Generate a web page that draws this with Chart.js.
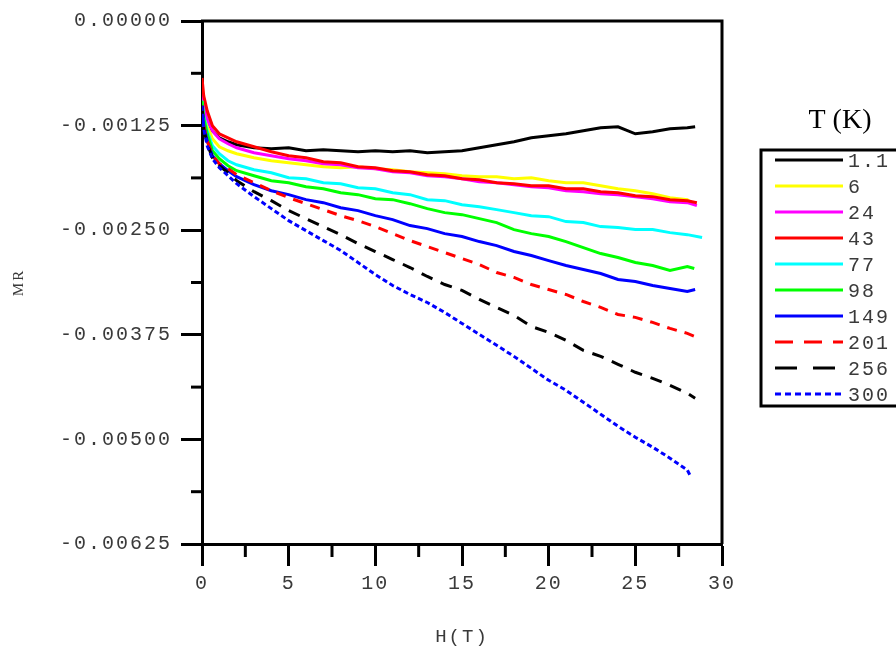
<!DOCTYPE html>
<html>
<head>
<meta charset="utf-8">
<script src="https://cdn.jsdelivr.net/npm/chart.js@4/dist/chart.umd.min.js"></script>
<style>
  html, body { margin: 0; padding: 0; background: #fff; }
  #wrap { width: 896px; height: 652px; }
</style>
</head>
<body>
<div id="wrap"><canvas id="chart"></canvas></div>
<script>
// field values (T) shared by every run, last point of each run is in fieldEnd
const fieldSteps = [0, 0.1, 0.3, 0.6, 1, 1.5, 2, 3, 4, 5, 6, 7, 8, 9, 10, 11, 12, 13, 14, 15,
  16, 17, 18, 19, 20, 21, 22, 23, 24, 25, 26, 27, 28];
const fieldEnd = [28.45, 28.15, 28.55, 28.55, 28.85, 28.4, 28.45, 28.7, 28.45, 28.15];

const temps = ["1.1", "6", "24", "43", "77", "98", "149", "201", "256", "300"];

const mr_1p1 = [-0.000895, -0.001050, -0.001193, -0.001312, -0.001396, -0.001443, -0.001479,
  -0.001515, -0.001527, -0.001515, -0.001551, -0.001539, -0.001551, -0.001563, -0.001551, -0.001563,
  -0.001551, -0.001575, -0.001563, -0.001551, -0.001515, -0.001479, -0.001443, -0.001396, -0.001372,
  -0.001348, -0.001312, -0.001276, -0.001264, -0.001348, -0.001324, -0.001288, -0.001276, -0.001264];
const mr_6 = [-0.000895, -0.001097, -0.001252, -0.001407, -0.001503, -0.001551, -0.001586,
  -0.001634, -0.001670, -0.001694, -0.001718, -0.001742, -0.001753, -0.001742, -0.001765, -0.001777,
  -0.001801, -0.001813, -0.001825, -0.001849, -0.001861, -0.001861, -0.001885, -0.001873, -0.001908,
  -0.001932, -0.001932, -0.001968, -0.002004, -0.002028, -0.002064, -0.002111, -0.002135, -0.002159];
const mr_24 = [-0.000835, -0.001014, -0.001169, -0.001312, -0.001407, -0.001467, -0.001515,
  -0.001575, -0.001610, -0.001646, -0.001670, -0.001706, -0.001718, -0.001753, -0.001765, -0.001801,
  -0.001813, -0.001849, -0.001861, -0.001885, -0.001920, -0.001932, -0.001956, -0.001980, -0.001992,
  -0.002028, -0.002040, -0.002064, -0.002075, -0.002099, -0.002123, -0.002159, -0.002171, -0.002207];
const mr_43 = [-0.000680, -0.000895, -0.001073, -0.001252, -0.001348, -0.001396, -0.001443,
  -0.001503, -0.001563, -0.001610, -0.001634, -0.001682, -0.001694, -0.001742, -0.001753, -0.001789,
  -0.001801, -0.001837, -0.001849, -0.001885, -0.001896, -0.001932, -0.001944, -0.001968, -0.001968,
  -0.002004, -0.002004, -0.002040, -0.002052, -0.002087, -0.002099, -0.002135, -0.002147, -0.002171];
const mr_77 = [-0.000954, -0.001133, -0.001312, -0.001491, -0.001586, -0.001670, -0.001718,
  -0.001777, -0.001813, -0.001873, -0.001885, -0.001932, -0.001944, -0.001992, -0.002004, -0.002052,
  -0.002075, -0.002135, -0.002147, -0.002195, -0.002219, -0.002254, -0.002290, -0.002326, -0.002338,
  -0.002397, -0.002409, -0.002457, -0.002469, -0.002493, -0.002493, -0.002529, -0.002553, -0.002588];
const mr_98 = [-0.000954, -0.001157, -0.001348, -0.001551, -0.001646, -0.001730, -0.001789,
  -0.001849, -0.001908, -0.001932, -0.001980, -0.002004, -0.002052, -0.002075, -0.002123, -0.002135,
  -0.002183, -0.002242, -0.002290, -0.002314, -0.002362, -0.002409, -0.002493, -0.002541, -0.002576,
  -0.002636, -0.002708, -0.002779, -0.002827, -0.002886, -0.002922, -0.002982, -0.002934, -0.002958];
const mr_149 = [-0.001014, -0.001252, -0.001431, -0.001610, -0.001706, -0.001789, -0.001861,
  -0.001956, -0.002028, -0.002075, -0.002135, -0.002171, -0.002231, -0.002266, -0.002326, -0.002374,
  -0.002445, -0.002481, -0.002541, -0.002576, -0.002636, -0.002684, -0.002755, -0.002803, -0.002863,
  -0.002922, -0.002970, -0.003018, -0.003089, -0.003113, -0.003161, -0.003197, -0.003232, -0.003209];
const mr_201 = [-0.001014, -0.001252, -0.001431, -0.001610, -0.001706, -0.001765, -0.001837,
  -0.001932, -0.002028, -0.002111, -0.002183, -0.002254, -0.002326, -0.002386, -0.002457, -0.002541,
  -0.002624, -0.002696, -0.002767, -0.002839, -0.002910, -0.003006, -0.003065, -0.003149, -0.003209,
  -0.003268, -0.003352, -0.003423, -0.003507, -0.003542, -0.003602, -0.003674, -0.003733, -0.003793];
const mr_256 = [-0.001014, -0.001288, -0.001467, -0.001634, -0.001730, -0.001813, -0.001908,
  -0.002040, -0.002147, -0.002266, -0.002362, -0.002457, -0.002553, -0.002660, -0.002755, -0.002851,
  -0.002946, -0.003053, -0.003149, -0.003220, -0.003328, -0.003423, -0.003519, -0.003650, -0.003721,
  -0.003817, -0.003936, -0.004008, -0.004103, -0.004198, -0.004270, -0.004354, -0.004449, -0.004509];
const mr_300 = [-0.001014, -0.001288, -0.001491, -0.001646, -0.001753, -0.001849, -0.001944,
  -0.002099, -0.002242, -0.002386, -0.002505, -0.002624, -0.002743, -0.002886, -0.003030, -0.003161,
  -0.003268, -0.003364, -0.003483, -0.003614, -0.003745, -0.003876, -0.004008, -0.004151, -0.004294,
  -0.004413, -0.004556, -0.004699, -0.004843, -0.004974, -0.005093, -0.005224, -0.005367, -0.005427];

const series = [mr_1p1, mr_6, mr_24, mr_43, mr_77, mr_98, mr_149, mr_201, mr_256, mr_300];
const lineColors = ["#000000", "#ffff00", "#ff00ff", "#ff0000", "#00ffff", "#00ff00", "#0000ff",
  "#ff0000", "#000000", "#0000ff"];
const plotDashes = [[], [], [], [], [], [], [], [10, 8], [12, 9], [5, 3]];
const legendDashes = [[], [], [], [], [], [], [], [18, 11], [22, 16], [6, 4]];

const monoFont = "'Liberation Mono', 'DejaVu Sans Mono', monospace";
const textColor = "#3a3a3a";

const datasets = series.map((vals, k) => ({
  label: temps[k],
  data: vals.map((v, i) => ({ x: i < fieldSteps.length ? fieldSteps[i] : fieldEnd[k], y: v })),
  borderColor: lineColors[k],
  borderWidth: 3,
  borderDash: plotDashes[k],
  pointRadius: 0,
  tension: 0,
  fill: false,
  order: series.length - k,
}));

// wider letter spacing, like the courier labels of the original
const spacingPlugin = {
  id: "spacing",
  beforeDraw(chart) {
    chart.ctx.letterSpacing = "2px";
  },
};

// minor ticks, frame on top/right and the T (K) legend box
const framePlugin = {
  id: "frame",
  afterDraw(chart) {
    const { ctx, chartArea: a, scales } = chart;
    ctx.save();
    ctx.strokeStyle = "#000";
    ctx.lineWidth = 3;
    ctx.beginPath();
    ctx.moveTo(a.left - 1, a.top);
    ctx.lineTo(a.right, a.top);
    ctx.lineTo(a.right, a.bottom);
    ctx.stroke();
    for (let h = 2.5; h < 30; h += 5) {
      const px = scales.x.getPixelForValue(h);
      ctx.beginPath();
      ctx.moveTo(px, a.bottom);
      ctx.lineTo(px, a.bottom + 13);
      ctx.stroke();
    }
    for (let m = -0.000625; m > -0.00625; m -= 0.00125) {
      const py = scales.y.getPixelForValue(m);
      ctx.beginPath();
      ctx.moveTo(a.left - 11, py);
      ctx.lineTo(a.left, py);
      ctx.stroke();
    }

    // legend
    ctx.strokeRect(761, 150, 150, 256);
    ctx.fillStyle = "#000";
    ctx.letterSpacing = "0px";
    ctx.font = "28px 'Liberation Serif', serif";
    ctx.textAlign = "center";
    ctx.textBaseline = "middle";
    ctx.fillText("T (K)", 840, 121);
    ctx.letterSpacing = "2px";
    ctx.font = "20px " + monoFont;
    ctx.textAlign = "left";
    chart.data.datasets.forEach((ds, k) => {
      const y = 160 + k * 26;
      ctx.strokeStyle = ds.borderColor;
      ctx.lineWidth = 3;
      ctx.setLineDash(legendDashes[k]);
      ctx.beginPath();
      ctx.moveTo(775, y);
      ctx.lineTo(843, y);
      ctx.stroke();
      ctx.setLineDash([]);
      ctx.fillStyle = textColor;
      ctx.fillText(ds.label, 848, y + 2);
    });
    ctx.restore();
  },
};

new Chart(document.getElementById("chart"), {
  type: "line",
  data: { datasets: datasets },
  options: {
    responsive: true,
    maintainAspectRatio: false,
    animation: false,
    layout: { padding: { top: 21, right: 174, left: 0, bottom: 0 } },
    plugins: {
      legend: { display: false },
      tooltip: { enabled: false },
    },
    scales: {
      x: {
        type: "linear",
        min: 0,
        max: 30,
        afterFit: (s) => { s.height = 108; },
        ticks: {
          stepSize: 5,
          maxRotation: 0,
          padding: 6,
          color: textColor,
          font: { family: monoFont, size: 20 },
        },
        grid: { drawOnChartArea: false, tickLength: 22, tickWidth: 3, tickColor: "#000" },
        border: { width: 3, color: "#000" },
        title: {
          display: true,
          text: "H(T)",
          color: textColor,
          font: { family: monoFont, size: 19 },
          padding: { top: 0, bottom: 4 },
        },
      },
      y: {
        type: "linear",
        min: -0.00625,
        max: 0,
        afterFit: (s) => { s.width = 202; },
        ticks: {
          stepSize: 0.00125,
          padding: 9,
          color: textColor,
          font: { family: monoFont, size: 20 },
          callback: (v) => (Math.abs(v) < 1e-9 ? 0 : v).toFixed(5),
        },
        grid: { drawOnChartArea: false, tickLength: 21, tickWidth: 3, tickColor: "#000" },
        border: { width: 3, color: "#000" },
        title: {
          display: true,
          text: "MR",
          color: textColor,
          font: { family: "'Liberation Serif', serif", size: 15 },
          padding: { top: 10, bottom: 0 },
        },
      },
    },
  },
  plugins: [spacingPlugin, framePlugin],
});
</script>
</body>
</html>
